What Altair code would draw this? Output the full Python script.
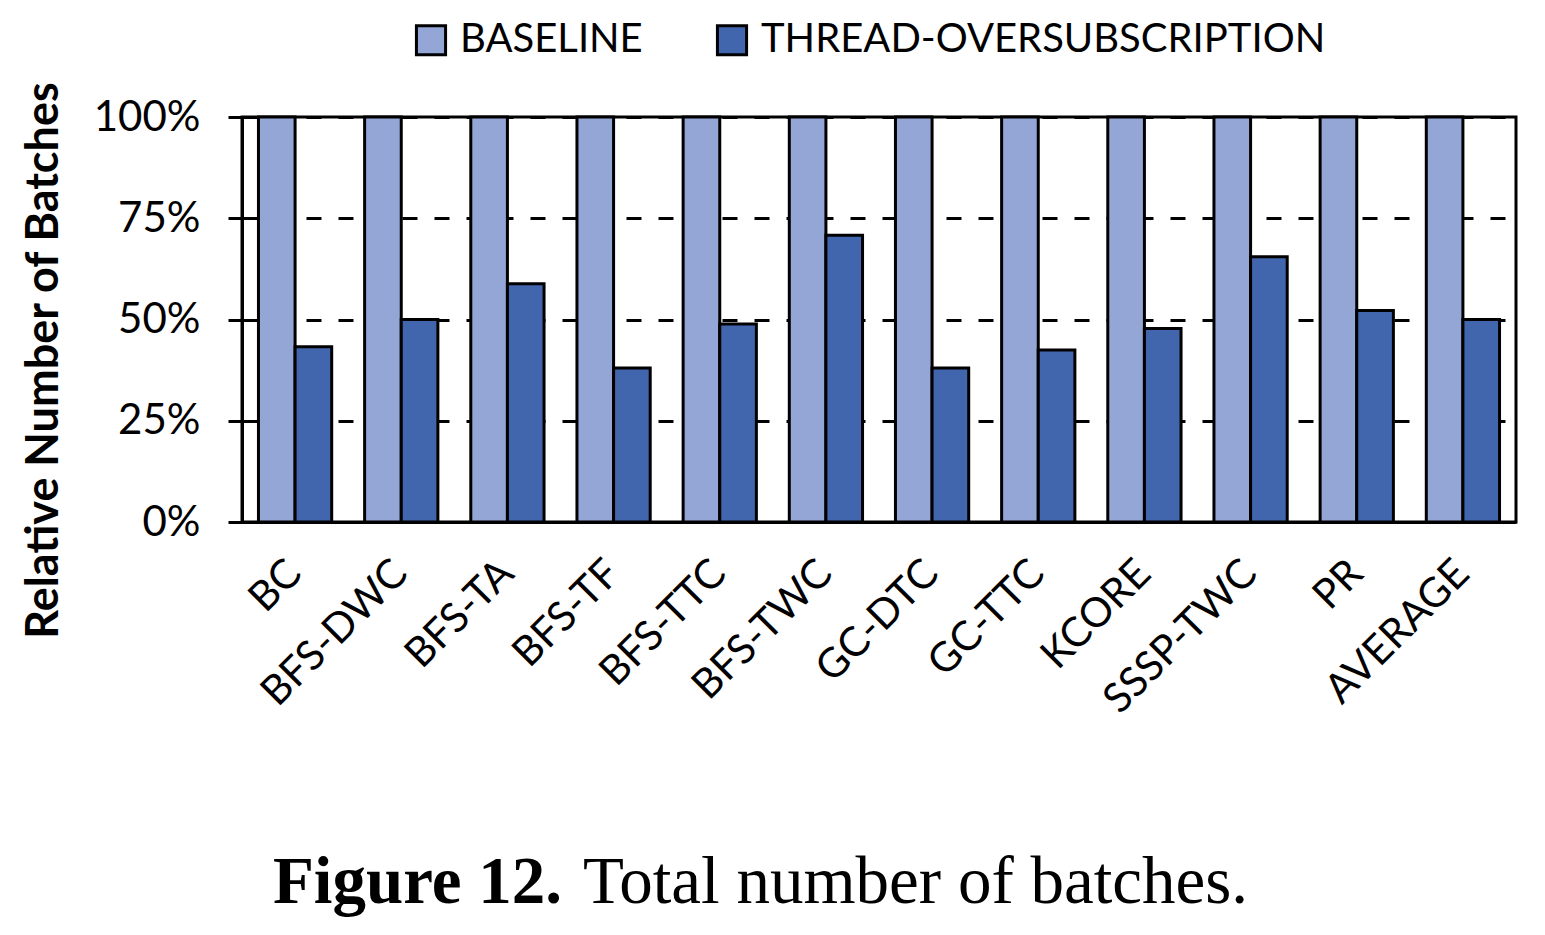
import altair as alt
import pandas as pd

categories = ["BC", "BFS-DWC", "BFS-TA", "BFS-TF", "BFS-TTC", "BFS-TWC",
              "GC-DTC", "GC-TTC", "KCORE", "SSSP-TWC", "PR", "AVERAGE"]
series_names = ["BASELINE", "THREAD-OVERSUBSCRIPTION"]
baseline_vals = [1.0] * 12
oversub_vals = [0.433, 0.50, 0.588, 0.38, 0.489, 0.708, 0.38, 0.425, 0.478, 0.655, 0.522, 0.50]
colors = ["#94A6D5", "#4166AD"]
y_ticks = [0, 0.25, 0.5, 0.75, 1.0]

rows = []
for c, b, o in zip(categories, baseline_vals, oversub_vals):
    rows.append({"cat": c, "series": series_names[0], "val": b})
    rows.append({"cat": c, "series": series_names[1], "val": o})
df = pd.DataFrame(rows)

FONT = "Lato"

bars = alt.Chart(df).mark_bar(stroke="black", strokeWidth=3).encode(
    x=alt.X("cat:N", sort=categories,
            scale=alt.Scale(paddingInner=0.31, paddingOuter=0.155),
            axis=alt.Axis(title=None, labelAngle=-45, labelAlign="right",
                          labelBaseline="middle", labelPadding=45, ticks=False,
                          labelFont=FONT, labelFontSize=41, labelColor="black",
                          labelLimit=0, labelOverlap=False,
                          domainColor="black", domainWidth=3, grid=False)),
    xOffset=alt.XOffset("series:N", sort=series_names),
    y=alt.Y("val:Q", scale=alt.Scale(domain=[0, 1], nice=False),
            axis=alt.Axis(title="Relative Number of Batches", format=".0%",
                          values=y_ticks, labelFont=FONT, labelFontSize=42,
                          labelColor="black", labelPadding=28,
                          tickColor="black", tickWidth=3, tickSize=14,
                          domainColor="black", domainWidth=3,
                          grid=True, gridColor="black", gridWidth=3,
                          gridDash=[15, 17], gridOpacity=1,
                          titleFont=FONT, titleFontSize=45, titleFontWeight="bold",
                          titleColor="black", titlePadding=27, titleY=243)),
    color=alt.Color("series:N", sort=series_names,
                    scale=alt.Scale(domain=series_names, range=colors),
                    legend=alt.Legend(title=None, orient="none", legendX=169, legendY=-97,
                                      direction="horizontal", symbolType="square",
                                      symbolSize=850, symbolStrokeColor="black",
                                      symbolStrokeWidth=3, labelFont=FONT,
                                      labelFontSize=40, labelColor="black",
                                      labelLimit=0,
                                      labelOffset=9, columnPadding=68,
                                      symbolOpacity=1)),
)

cap1 = alt.Chart(pd.DataFrame({"t": ["Figure 12."]})).mark_text(
    font="Liberation Serif", fontSize=67, fontWeight="bold", align="right",
    baseline="alphabetic", color="black"
).encode(x=alt.value(320), y=alt.value(786), text="t:N")

cap2 = alt.Chart(pd.DataFrame({"t": ["Total number of batches."]})).mark_text(
    font="Liberation Serif", fontSize=67, align="left",
    baseline="alphabetic", color="black"
).encode(x=alt.value(341), y=alt.value(786), text="t:N")

chart = alt.layer(bars, cap1, cap2).properties(
    width=1274, height=405,
    background="white",
    autosize=alt.AutoSizeParams(type="none"),
    padding={"left": 242, "top": 117, "right": 29, "bottom": 413},
).configure_view(stroke="black", strokeWidth=3)

chart.save("out.html", embed_options={"renderer": "svg", "actions": False})
